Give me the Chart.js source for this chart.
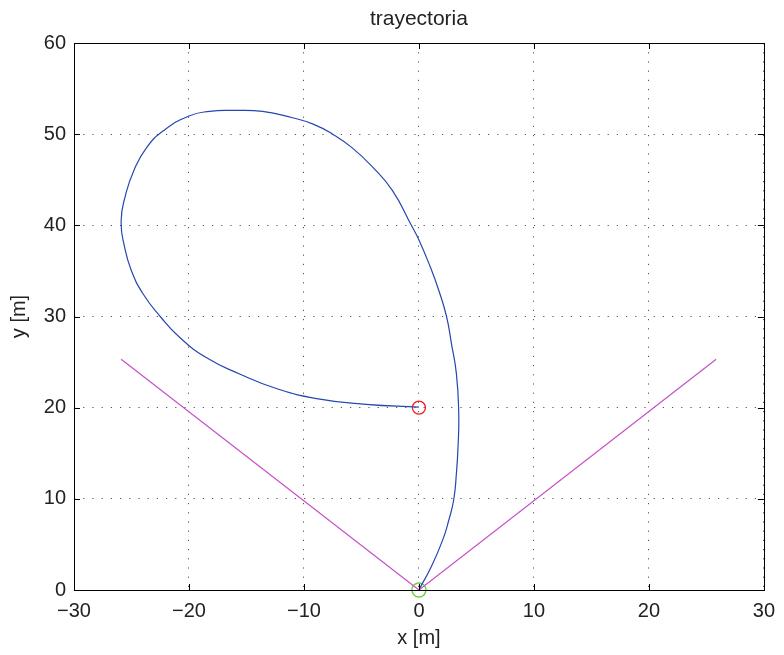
<!DOCTYPE html>
<html lang="es">
<head>
<meta charset="UTF-8" />
<title>trayectoria</title>
<script src="https://cdn.jsdelivr.net/npm/chart.js@4.4.0/dist/chart.umd.min.js"></script>
<style>
  html, body { margin: 0; padding: 0; background: #fff; }
  #wrap { width: 784px; height: 655px; position: relative; }
</style>
</head>
<body>
<div id="wrap"><canvas id="myChart"></canvas></div>
<script>
  // trajectory, from start (0,0) to end (0,20)
  const trajX = [0, 0.15, 1.07, 2.07, 2.6, 3.02, 3.26, 3.4, 3.46, 3.26, 2.83, 2.4, 1.73, 1.0, 0, -0.66, -2.3, -4.0, -5.8, -7.5, -9.2, -11, -13.6, -16.2, -18.2, -20, -22.2, -23.7, -24.8, -25.5, -25.9, -25.6, -25.0, -24.0, -22.5, -20.8, -18.5, -15.6, -12.4, -8.9, -4.6, 0];
  const trajY = [0, 0.37, 2.56, 5.5, 7.68, 9.87, 12.8, 15.7, 19.4, 23.7, 27, 30, 32.85, 35.4, 38.4, 40, 43.8, 46.35, 48.5, 50, 51.1, 51.8, 52.5, 52.6, 52.5, 52.0, 50.4, 48.5, 46.0, 43.4, 40.5, 37.6, 35.0, 32.5, 30, 27.7, 25.5, 23.7, 22.1, 21.0, 20.36, 20.07];

  // cone lines
  const coneX = [-25.9, 0, 25.85];
  const coneY = [25.3, 0, 25.3];

  const startPoint = [0, 0];
  const endPoint = [0, 20];

  const xTicks = [-30, -20, -10, 0, 10, 20, 30];
  const yTicks = [0, 10, 20, 30, 40, 50, 60];

  const FONT = "'Liberation Sans', Arial, Helvetica, sans-serif";

  function toPoints(xs, ys) {
    return xs.map((x, i) => ({ x: x, y: ys[i] }));
  }

  // box, inward ticks and title, like a matlab axes
  const axesBox = {
    id: "axesBox",
    afterDatasetsDraw(chart) {
      const { ctx, chartArea: a, scales } = chart;
      ctx.save();
      ctx.strokeStyle = "#000";
      ctx.lineWidth = 1;
      ctx.beginPath();
      xTicks.forEach((v) => {
        const px = Math.round(scales.x.getPixelForValue(v)) + 0.5;
        ctx.moveTo(px, a.bottom); ctx.lineTo(px, a.bottom - 6);
        ctx.moveTo(px, a.top); ctx.lineTo(px, a.top + 6);
      });
      yTicks.forEach((v) => {
        const py = Math.round(scales.y.getPixelForValue(v)) + 0.5;
        ctx.moveTo(a.left, py); ctx.lineTo(a.left + 6, py);
        ctx.moveTo(a.right, py); ctx.lineTo(a.right - 6, py);
      });
      ctx.stroke();
      ctx.strokeRect(Math.round(a.left) + 0.5, Math.round(a.top) + 0.5,
        Math.round(a.right - a.left), Math.round(a.bottom - a.top));
      ctx.fillStyle = "#222";
      ctx.font = "21px " + FONT;
      ctx.textAlign = "center";
      ctx.textBaseline = "alphabetic";
      ctx.fillText("trayectoria", (a.left + a.right) / 2, 25);
      ctx.restore();
    },
  };

  const ctx = document.getElementById("myChart").getContext("2d");
  new Chart(ctx, {
    type: "line",
    data: {
      datasets: [
        {
          label: "cono",
          data: toPoints(coneX, coneY),
          borderColor: "rgb(200,80,200)",
          borderWidth: 1.2,
          pointRadius: 0,
          tension: 0,
        },
        {
          label: "trayectoria",
          data: toPoints(trajX, trajY),
          borderColor: "rgb(40,70,175)",
          borderWidth: 1.2,
          pointRadius: 0,
          tension: 0.5,
          cubicInterpolationMode: "default",
        },
        {
          label: "inicio",
          data: [{ x: startPoint[0], y: startPoint[1] }],
          showLine: false,
          pointRadius: 7,
          pointBorderWidth: 1.4,
          pointBackgroundColor: "rgba(0,0,0,0)",
          pointBorderColor: "rgb(110,205,70)",
          clip: false,
        },
        {
          label: "fin",
          data: [{ x: endPoint[0], y: endPoint[1] }],
          showLine: false,
          pointRadius: 6.5,
          pointBorderWidth: 1.3,
          pointBackgroundColor: "rgba(0,0,0,0)",
          pointBorderColor: "rgb(235,30,30)",
          clip: false,
        },
      ],
    },
    options: {
      responsive: true,
      maintainAspectRatio: false,
      animation: false,
      parsing: true,
      layout: { padding: { top: 43, right: 16, left: 0, bottom: 0 } },
      plugins: {
        legend: { display: false },
        title: { display: false },
        tooltip: { enabled: false },
      },
      scales: {
        x: {
          type: "linear",
          min: -30,
          max: 30,
          afterFit: (s) => { s.height = 65; },
          afterBuildTicks: (s) => { s.ticks = xTicks.map((v) => ({ value: v })); },
          ticks: {
            padding: 9,
            color: "#222",
            font: { family: FONT, size: 20 },
            callback: (v) => String(v).replace("-", "\u2212"),
            maxRotation: 0,
          },
          grid: { color: "#555", lineWidth: 1, drawTicks: false },
          border: { display: false, dash: [1.2, 8] },
          title: {
            display: true,
            text: "x [m]",
            color: "#222",
            font: { family: FONT, size: 20 },
            padding: { top: 0, bottom: 5 },
          },
        },
        y: {
          type: "linear",
          min: 0,
          max: 60,
          afterFit: (s) => { s.width = 74; },
          afterBuildTicks: (s) => { s.ticks = yTicks.map((v) => ({ value: v })); },
          ticks: {
            padding: 8,
            color: "#222",
            font: { family: FONT, size: 20 },
          },
          grid: { color: "#555", lineWidth: 1, drawTicks: false },
          border: { display: false, dash: [1.2, 8] },
          title: {
            display: true,
            text: "y [m]",
            color: "#222",
            font: { family: FONT, size: 20 },
            padding: { top: 7, bottom: 0 },
          },
        },
      },
    },
    plugins: [axesBox],
  });
</script>
</body>
</html>
